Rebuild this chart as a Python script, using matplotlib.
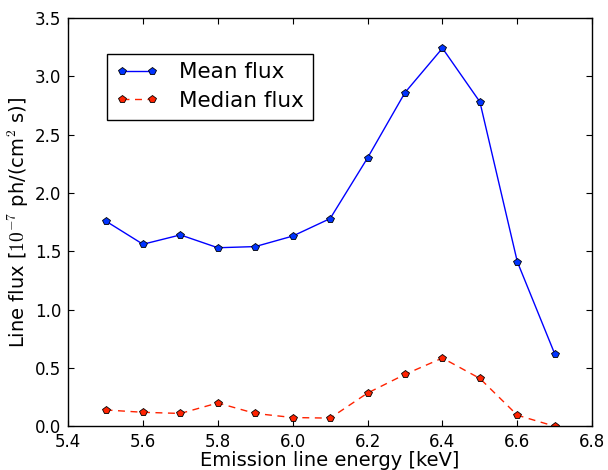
import matplotlib
matplotlib.use('Agg')
import matplotlib.pyplot as plt

plt.rcParams['mathtext.fontset'] = 'cm'
plt.rcParams['font.family'] = 'DejaVu Sans'

energy = [5.5, 5.6, 5.7, 5.8, 5.9, 6.0, 6.1, 6.2, 6.3, 6.4, 6.5, 6.6, 6.7]
mean_flux = [1.76, 1.56, 1.64, 1.53, 1.54, 1.63, 1.78, 2.30, 2.86, 3.24, 2.78, 1.41, 0.62]
median_flux = [0.14, 0.12, 0.11, 0.20, 0.11, 0.075, 0.07, 0.285, 0.445, 0.585, 0.41, 0.095, 0.0]

fig = plt.figure(figsize=(6.08, 4.70), dpi=100)
ax = fig.add_axes([0.112, 0.093, 0.862, 0.869])

ax.plot(energy, mean_flux, '-', color='#0000ff', lw=1.0, marker='p',
        ms=6, mfc='#0033ff', mec='black', mew=0.6, label='Mean flux')
ax.plot(energy, median_flux, '--', color='#ff2200', lw=1.0, marker='p',
        ms=6, mfc='#ff2200', mec='black', mew=0.6, label='Median flux',
        dashes=(5, 4))

ax.set_xlim(5.4, 6.8)
ax.set_ylim(0, 3.5)
ax.set_xticks([5.4, 5.6, 5.8, 6.0, 6.2, 6.4, 6.6, 6.8])
ax.set_yticks([0.0, 0.5, 1.0, 1.5, 2.0, 2.5, 3.0, 3.5])
ax.xaxis.set_major_formatter(matplotlib.ticker.FormatStrFormatter('%.1f'))
ax.yaxis.set_major_formatter(matplotlib.ticker.FormatStrFormatter('%.1f'))
ax.tick_params(direction='in', top=True, right=True, length=4, width=0.8,
               labelsize=12, pad=5)
for s in ax.spines.values():
    s.set_linewidth(1.0)

ax.set_xlabel('Emission line energy [keV]', fontsize=14, labelpad=0)
ax.set_ylabel(r'Line flux [$10^{-7}$ ph/(cm$^2$ s)]', fontsize=14, labelpad=3)

leg = ax.legend(loc='upper left', bbox_to_anchor=(0.0744, 0.912), fontsize=15.5,
                numpoints=2, fancybox=False, framealpha=1, edgecolor='black',
                borderpad=0.4, handlelength=2.0, handletextpad=0.95,
                labelspacing=0.4, borderaxespad=0)
leg.get_frame().set_linewidth(1.0)

fig.savefig('out.png', dpi=100)
